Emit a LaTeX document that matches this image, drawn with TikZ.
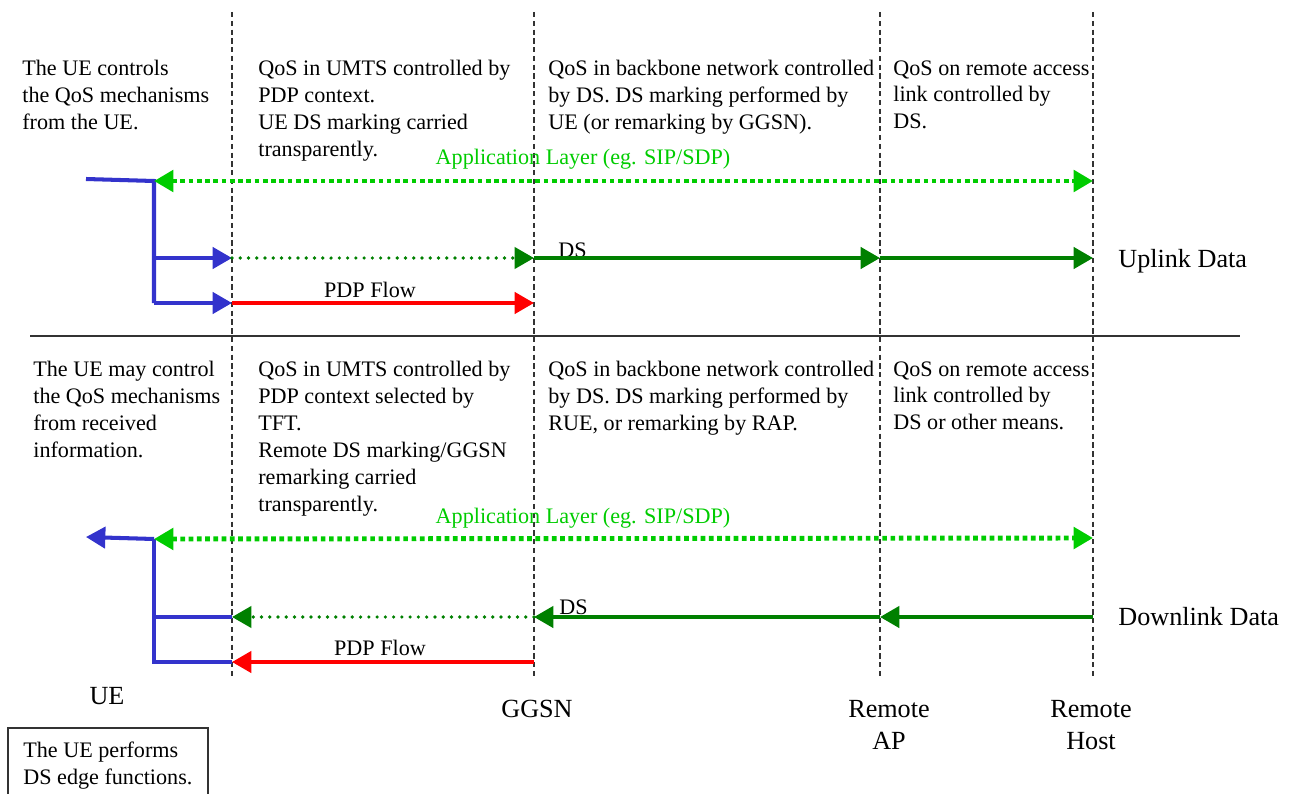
\documentclass[tikz,border=0pt]{standalone}
\usepackage{fontspec}
\setmainfont{Liberation Serif}
\usetikzlibrary{arrows.meta}

\definecolor{uebl}{RGB}{51,51,204}
\definecolor{applgreen}{RGB}{0,204,0}
\definecolor{dsgreen}{RGB}{0,128,0}
\definecolor{flowred}{RGB}{255,0,0}
\definecolor{linegray}{RGB}{51,51,51}

\begin{document}
\begin{tikzpicture}[x=0.02cm,y=-0.02cm,
  txt/.style={font=\fontsize{12.6}{15.3}\selectfont,inner sep=0pt,align=left,anchor=north west},
  lbl/.style={font=\fontsize{12.6}{15.3}\selectfont,inner sep=0pt},
  big/.style={font=\fontsize{14.9}{18.2}\selectfont,inner sep=0pt},
  lane/.style={line width=0.75pt,draw=linegray,dash pattern=on 3pt off 2pt},
  tip/.style={-{Triangle[length=11pt,width=12pt]}},
  uebus/.style={line width=2.3pt,draw=uebl},
  apl/.style={line width=2.8pt,draw=applgreen,dash pattern=on 2.65pt off 2.05pt,
    {Triangle[length=11pt,width=12pt]}-{Triangle[length=11pt,width=12pt]}},
  dsdot/.style={line width=2.1pt,draw=dsgreen,line cap=round,dash pattern=on 0pt off 4.7pt},
  dsline/.style={line width=2.3pt,draw=dsgreen},
  flow/.style={line width=2.3pt,draw=flowred}]
\useasboundingbox (0,0) rectangle (1289,794);

% lanes and separator
\foreach \x in {232,534,880,1093}
  \draw[lane] (\x,12) -- (\x,678);
\draw[line width=0.75pt,linegray] (30,336) -- (1240,336);

% uplink half
\node[txt] (uptxtue) at (22,60) {The UE controls\\the QoS mechanisms\\from the UE.};
\node[txt] (uptxtumts) at (258,60) {QoS in UMTS controlled by\\PDP context.\\UE DS marking carried\\transparently.};
\node[txt] (uptxtbb) at (548,60) {QoS in backbone network controlled\\by DS. DS marking performed by\\UE (or remarking by GGSN).};
\node[txt] (uptxtra) at (893,60) {QoS on remote access\\link controlled by\\DS.};
\node[lbl,anchor=base,text=applgreen] (aplup) at (583,165) {Application Layer (eg. SIP/SDP)};
\node[lbl,anchor=base west] (dsup) at (558,257) {DS};
\node[lbl,anchor=base] (flowup) at (370,297) {PDP Flow};
\node[big,anchor=base west] (uplink) at (1118,267) {Uplink Data};

\coordinate (upstart) at (86,179);
\coordinate (upcorner) at (154,181);
\coordinate (upjoin) at (154,258);
\coordinate (upfoot) at (154,303);
\coordinate (upumtsds) at (232,258);
\coordinate (upumtsflow) at (232,303);
\coordinate (upggsnds) at (534,258);
\coordinate (upggsnflow) at (534,303);
\coordinate (uprapds) at (880,258);
\coordinate (uphostds) at (1093,258);
\coordinate (uphostapl) at (1093,181);

\draw[uebus] (upstart) -- (upcorner) -- (upfoot);
\draw[uebus,tip] (upjoin) -- (upumtsds);
\draw[uebus,tip] (upfoot) -- (upumtsflow);
\draw[apl] (upcorner) -- (uphostapl);
\draw[dsdot,tip,dsgreen] (upumtsds) -- (upggsnds);
\draw[dsline,tip] (upggsnds) -- (uprapds);
\draw[dsline,tip] (uprapds) -- (uphostds);
\draw[flow,tip] (upumtsflow) -- (upggsnflow);

% downlink half
\node[txt] (dntxtue) at (33,361) {The UE may control\\the QoS mechanisms\\from received\\information.};
\node[txt] (dntxtumts) at (258,361) {QoS in UMTS controlled by\\PDP context selected by\\TFT.\\Remote DS marking/GGSN\\remarking carried\\transparently.};
\node[txt] (dntxtbb) at (548,361) {QoS in backbone network controlled\\by DS. DS marking performed by\\RUE, or remarking by RAP.};
\node[txt] (dntxtra) at (893,361) {QoS on remote access\\link controlled by\\DS or other means.};
\node[lbl,anchor=base,text=applgreen] (apldn) at (583,523) {Application Layer (eg. SIP/SDP)};
\node[lbl,anchor=base west] (dsdn) at (559,614) {DS};
\node[lbl,anchor=base] (flowdn) at (380,655) {PDP Flow};
\node[big,anchor=base west] (downlink) at (1118,625) {Downlink Data};

\coordinate (dnend) at (86,537);
\coordinate (dncorner) at (154,539);
\coordinate (dnjoin) at (154,617);
\coordinate (dnfoot) at (154,662);
\coordinate (dnumtsds) at (232,617);
\coordinate (dnumtsflow) at (232,662);
\coordinate (dnggsnds) at (534,617);
\coordinate (dnggsnflow) at (534,662);
\coordinate (dnrapds) at (880,617);
\coordinate (dnhostds) at (1093,617);
\coordinate (dnhostapl) at (1093,538);

\draw[uebus,tip] (dncorner) -- (dnend);
\draw[uebus] (dncorner) -- (dnfoot) -- (dnumtsflow);
\draw[uebus] (dnjoin) -- (dnumtsds);
\draw[apl] (dncorner) -- (dnhostapl);
\draw[dsline,tip] (dnhostds) -- (dnrapds);
\draw[dsline,tip] (dnrapds) -- (dnggsnds);
\draw[dsdot,tip,dsgreen] (dnggsnds) -- (dnumtsds);
\draw[flow,tip] (dnggsnflow) -- (dnumtsflow);

% element names
\node[big,anchor=base] (ue) at (107,704) {UE};
\node[big,anchor=base] (ggsn) at (537,717) {GGSN};
\node[big,anchor=north,align=center] (rap) at (889,700) {Remote\\AP};
\node[big,anchor=north,align=center] (host) at (1091,700) {Remote\\Host};

% note box, cut off by the page edge
\draw[line width=0.75pt,linegray] (8,805) -- (8,728) -- (208,728) -- (208,805);
\node[txt] (uenote) at (23,742) {The UE performs\\DS edge functions.};
\end{tikzpicture}
\end{document}
